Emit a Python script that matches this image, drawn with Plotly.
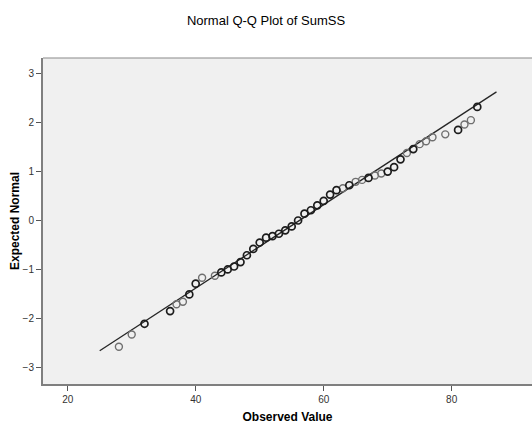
import plotly.graph_objects as go

# Observed values (SumSS) and expected normal quantiles
observed = [28, 30, 32, 36, 37, 38, 39, 40, 41, 43, 44, 45, 46, 47, 48, 49, 50,
            51, 52, 53, 54, 55, 56, 57, 58, 59, 60, 61, 62, 63, 64, 65, 66, 67,
            68, 69, 70, 71, 72, 73, 74, 75, 76, 77, 79, 81, 82, 83, 84]
expected = [-2.58, -2.33, -2.11, -1.85, -1.71, -1.66, -1.51, -1.29, -1.17, -1.13,
            -1.06, -1.00, -0.94, -0.85, -0.71, -0.58, -0.45, -0.35, -0.32, -0.27,
            -0.20, -0.12, 0.00, 0.14, 0.21, 0.31, 0.40, 0.53, 0.62, 0.66, 0.72,
            0.79, 0.83, 0.87, 0.92, 0.96, 1.00, 1.09, 1.25, 1.38, 1.46, 1.56,
            1.62, 1.70, 1.76, 1.85, 1.96, 2.05, 2.32]
# tie counts (overlapping cases drawn darker)
counts = [1, 1, 2, 2, 1, 1, 2, 2, 1, 1, 2, 2, 2, 2, 2, 2, 2, 2, 2, 2, 2, 2, 2,
          2, 2, 2, 2, 2, 2, 1, 2, 1, 1, 2, 1, 1, 2, 2, 2, 1, 2, 1, 1, 1, 1, 2,
          1, 1, 2]

# reference normal line
mean_val = 56.2
sd_val = 11.72
line_x = [25, 87]
line_y = [(v - mean_val) / sd_val for v in line_x]

x_ticks = [20, 40, 60, 80]
y_ticks = [-3, -2, -1, 0, 1, 2, 3]

FONT = "Liberation Sans, Arial, sans-serif"

fig = go.Figure()
fig.add_trace(go.Scatter(x=line_x, y=line_y, mode="lines",
                         line=dict(color="#262626", width=1.3),
                         hoverinfo="skip", showlegend=False))

for c, col, w in [(1, "#6f6f6f", 1.4), (2, "#1c1c1c", 1.7)]:
    xs = [o for o, k in zip(observed, counts) if k == c]
    ys = [e for e, k in zip(expected, counts) if k == c]
    fig.add_trace(go.Scatter(x=xs, y=ys, mode="markers",
                             marker=dict(symbol="circle-open", size=7,
                                         color=col, line=dict(color=col, width=w)),
                             showlegend=False))

fig.update_layout(
    width=532, height=426,
    margin=dict(l=43, r=0, t=58, b=42),
    paper_bgcolor="white", plot_bgcolor="#F0F0F0",
    font=dict(family=FONT, color="#000"),
    title=dict(text="Normal Q-Q Plot of SumSS", x=0.5, xanchor="center",
               y=1 - 20 / 426, yanchor="middle",
               font=dict(size=13, color="#000", family=FONT)),
    shapes=[dict(type="line", xref="paper", yref="paper", x0=0, x1=1, y0=1, y1=1,
                 line=dict(color="#8a8a8a", width=1.2))],
)
fig.update_xaxes(range=[16.14, 92.55], tickvals=x_ticks, showgrid=False, zeroline=False,
                 showline=True, linecolor="#7f7f7f", linewidth=2,
                 ticks="outside", ticklen=5, tickcolor="#555", tickwidth=1,
                 tickfont=dict(size=10, color="#333"),
                 title=dict(text="<b>Observed Value</b>", font=dict(size=12, color="#000"),
                            standoff=9))
fig.update_yaxes(range=[-3.34, 3.32], tickvals=y_ticks, showgrid=False, zeroline=False,
                 showline=True, linecolor="#7f7f7f", linewidth=2,
                 ticks="outside", ticklen=5, tickcolor="#555", tickwidth=1,
                 tickfont=dict(size=10, color="#333"),
                 title=dict(text="<b>Expected Normal</b>", font=dict(size=12, color="#000"),
                            standoff=0))

fig.write_html("out.html")
